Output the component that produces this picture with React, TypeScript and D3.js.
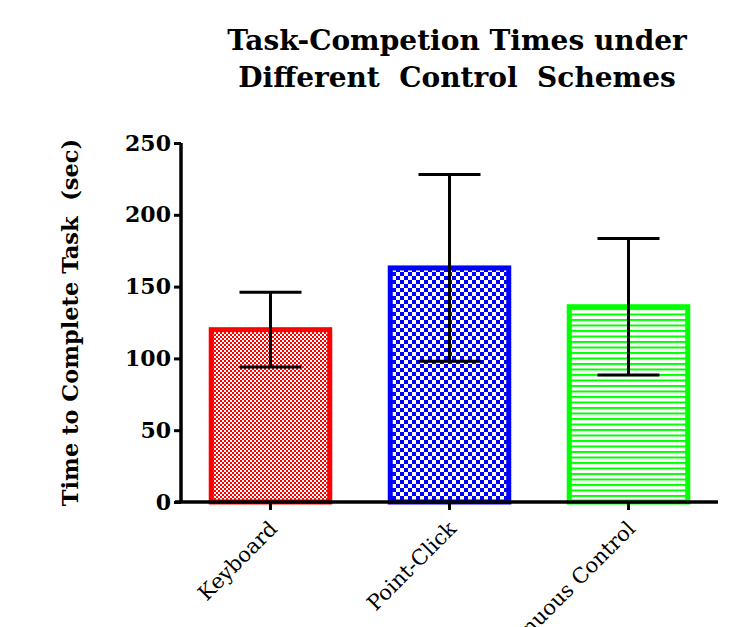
import React, { useEffect, useRef } from "react";
import * as d3 from "d3";

const categories = ["Keyboard", "Point-Click", "Continuous Control"];
const means = [120, 163, 136];
const errors = [26, 65, 47.5];
const yTicks = [0, 50, 100, 150, 200, 250];
const colors = ["#ff0000", "#0000ff", "#00ff00"];
const patterns = ["pat-red", "pat-blue", "pat-green"];

export default function App() {
  const ref = useRef<SVGSVGElement>(null);

  useEffect(() => {
    const svg = d3.select(ref.current);
    svg.selectAll("*").remove();

    const left = 181;
    const right = 718;
    const top = 143;
    const bottom = 502;
    const font = "'DejaVu Serif', serif";

    const x = d3.scaleBand().domain(categories).range([left, right]).paddingInner(0.31).paddingOuter(0.155);
    const y = d3.scaleLinear().domain([0, 250]).range([bottom, top]);

    const defs = svg.append("defs");
    // fine red checkerboard
    const pr = defs.append("pattern").attr("id", "pat-red").attr("patternUnits", "userSpaceOnUse")
      .attr("width", 4).attr("height", 4);
    pr.append("rect").attr("width", 4).attr("height", 4).attr("fill", "#fff");
    pr.append("rect").attr("width", 2).attr("height", 2).attr("fill", "#ff0000");
    pr.append("rect").attr("x", 2).attr("y", 2).attr("width", 2).attr("height", 2).attr("fill", "#ff0000");
    // coarse blue checkerboard
    const pb = defs.append("pattern").attr("id", "pat-blue").attr("patternUnits", "userSpaceOnUse")
      .attr("width", 8).attr("height", 8);
    pb.append("rect").attr("width", 8).attr("height", 8).attr("fill", "#fff");
    pb.append("rect").attr("width", 4).attr("height", 4).attr("fill", "#0000ff");
    pb.append("rect").attr("x", 4).attr("y", 4).attr("width", 4).attr("height", 4).attr("fill", "#0000ff");
    // green horizontal lines
    const pg = defs.append("pattern").attr("id", "pat-green").attr("patternUnits", "userSpaceOnUse")
      .attr("width", 6).attr("height", 5.5);
    pg.append("rect").attr("width", 6).attr("height", 5.5).attr("fill", "#fff");
    pg.append("rect").attr("width", 6).attr("height", 2).attr("fill", "#00ff00");

    // bars
    svg.selectAll("rect.bar").data(categories).enter().append("rect")
      .attr("class", "bar")
      .attr("x", (d) => x(d)! + 2.5)
      .attr("width", x.bandwidth() - 5)
      .attr("y", (_, i) => y(means[i]))
      .attr("height", (_, i) => bottom - y(means[i]))
      .attr("fill", (_, i) => `url(#${patterns[i]})`)
      .attr("stroke", (_, i) => colors[i])
      .attr("stroke-width", 5);

    // error bars
    const eb = svg.append("g").attr("stroke", "#000").attr("stroke-width", 3);
    categories.forEach((c, i) => {
      const cx = x(c)! + x.bandwidth() / 2;
      const hi = y(means[i] + errors[i]);
      const lo = y(means[i] - errors[i]);
      eb.append("line").attr("x1", cx).attr("x2", cx).attr("y1", hi).attr("y2", lo);
      eb.append("line").attr("x1", cx - 31).attr("x2", cx + 31).attr("y1", hi).attr("y2", hi);
      eb.append("line").attr("x1", cx - 31).attr("x2", cx + 31).attr("y1", lo).attr("y2", lo);
    });

    // y axis
    const ya = svg.append("g").attr("transform", `translate(${left},0)`)
      .call(d3.axisLeft(y).tickValues(yTicks).tickSize(7).tickPadding(3).tickFormat(d3.format("d")));
    ya.select(".domain").attr("stroke", "#000").attr("stroke-width", 3.5).attr("d", `M0,${top}H0V${bottom}`);
    ya.selectAll(".tick line").attr("stroke-width", 3);
    ya.selectAll(".tick text").attr("font-family", font).attr("font-weight", "bold")
      .attr("font-size", 22).attr("fill", "#000").attr("dy", "0.32em");

    // x axis
    const xa = svg.append("g").attr("transform", `translate(0,${bottom})`)
      .call(d3.axisBottom(x).tickSize(8).tickSizeOuter(0));
    xa.select(".domain").attr("stroke", "#000").attr("stroke-width", 3.5).attr("d", `M${left - 6},0H${right}`);
    xa.selectAll(".tick line").attr("stroke-width", 3);
    xa.selectAll(".tick text").attr("font-family", font).attr("font-size", 21).attr("fill", "#000")
      .attr("text-anchor", "end").attr("dy", 0).attr("y", 0)
      .attr("transform", "translate(8,28) rotate(-45)");

    // axis title
    svg.append("text")
      .attr("transform", `translate(78,${(top + bottom) / 2}) rotate(-90)`)
      .attr("text-anchor", "middle").attr("font-family", font).attr("font-weight", "bold")
      .attr("font-size", 22.5).attr("fill", "#000")
      .text("Time to Complete Task  (sec)").style("white-space", "pre");

    // title
    const t = svg.append("text").attr("text-anchor", "middle").attr("font-family", font)
      .attr("font-weight", "bold").attr("font-size", 28).attr("fill", "#000").style("white-space", "pre");
    t.append("tspan").attr("x", 457).attr("y", 50).text("Task-Competion Times under");
    t.append("tspan").attr("x", 457).attr("y", 87).text("Different  Control  Schemes");
  }, []);

  return (
    <svg ref={ref} width={742} height={627} style={{ position: "absolute", left: 0, top: 0, background: "#fff" }} />
  );
}
